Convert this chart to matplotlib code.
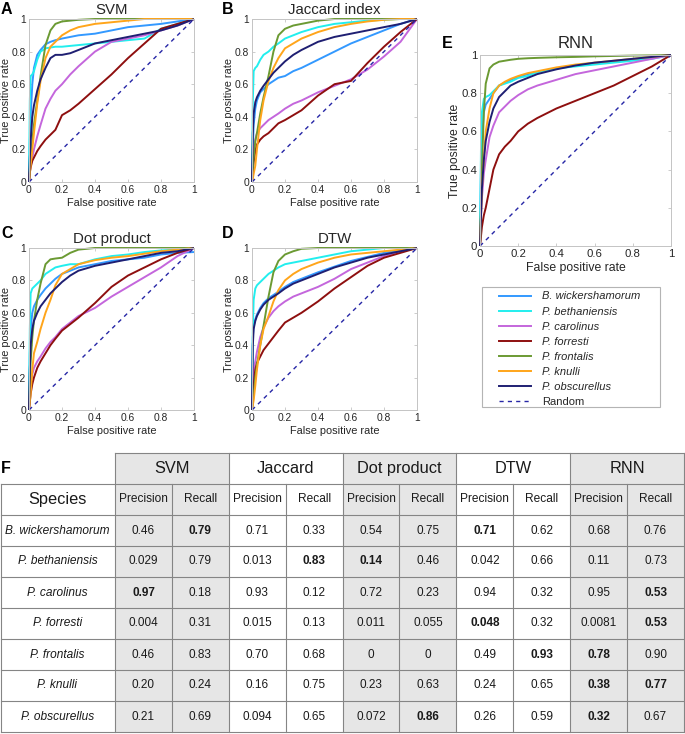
import numpy as np
import matplotlib
matplotlib.use('Agg')
import matplotlib.pyplot as plt
from matplotlib.patches import Rectangle
from matplotlib.lines import Line2D

plt.rcParams['font.family'] = ['Liberation Sans', 'DejaVu Sans']

'''
Data
'''
species = ['B. wickershamorum', 'P. bethaniensis', 'P. carolinus', 'P. forresti',
           'P. frontalis', 'P. knulli', 'P. obscurellus']
colors = ['#3399ff', '#22eeee', '#c466dc', '#8e0f0f', '#6b9a33', '#ffa51a', '#1f1f72']

# shared false positive rate grid
fpr = [0, 0.005, 0.01, 0.02, 0.03, 0.05, 0.07, 0.1, 0.13, 0.16, 0.2, 0.25,
       0.3, 0.4, 0.5, 0.6, 0.7, 0.8, 0.9, 1.0]

tpr_svm = [
    [0, .25, .40, .60, .70, .78, .81, .845, .86, .87, .88, .89, .90, .91, .93, .95, .96, .97, .985, 1],
    [0, .50, .65, .66, .68, .75, .80, .82, .825, .83, .83, .835, .84, .85, .86, .87, .88, .94, .97, 1],
    [0, .06, .10, .15, .20, .28, .35, .45, .51, .56, .60, .66, .71, .80, .86, .88, .90, .93, .96, 1],
    [0, .06, .09, .13, .15, .19, .22, .26, .29, .32, .41, .44, .48, .57, .66, .76, .85, .94, .97, 1],
    [0, .08, .15, .25, .35, .50, .65, .84, .93, .97, .985, .99, .995, 1, 1, 1, 1, 1, 1, 1],
    [0, .05, .10, .20, .30, .48, .62, .76, .83, .86, .90, .93, .95, .97, .98, .99, 1, 1, 1, 1],
    [0, .15, .25, .40, .47, .56, .63, .70, .76, .78, .78, .79, .81, .85, .87, .89, .91, .93, .96, 1],
]
tpr_jaccard = [
    [0, .20, .35, .45, .50, .55, .57, .60, .62, .64, .65, .68, .70, .75, .80, .85, .89, .93, .97, 1],
    [0, .50, .68, .70, .71, .75, .78, .80, .83, .85, .88, .90, .92, .95, .97, .98, .99, .995, 1, 1],
    [0, .12, .20, .26, .30, .33, .35, .38, .40, .42, .45, .48, .50, .55, .59, .63, .69, .77, .86, 1],
    [0, .07, .12, .19, .23, .26, .28, .30, .33, .36, .38, .41, .44, .53, .60, .62, .73, .83, .92, 1],
    [0, .08, .15, .25, .30, .42, .52, .65, .80, .90, .94, .96, .97, .99, 1, 1, 1, 1, 1, 1],
    [0, .02, .05, .10, .20, .38, .50, .62, .70, .76, .82, .85, .88, .92, .95, .97, .985, .995, 1, 1],
    [0, .30, .42, .49, .52, .56, .59, .63, .67, .70, .74, .78, .81, .86, .89, .91, .93, .95, .97, 1],
]
tpr_dot = [
    [0, .35, .50, .60, .64, .68, .71, .75, .78, .81, .84, .86, .88, .90, .92, .93, .94, .96, .97, .975],
    [0, .50, .72, .75, .76, .78, .80, .84, .86, .88, .89, .90, .90, .93, .95, .96, .975, .985, .99, 1],
    [0, .10, .16, .22, .26, .30, .33, .38, .42, .45, .50, .54, .58, .63, .70, .76, .82, .88, .95, 1],
    [0, .05, .10, .16, .20, .26, .30, .35, .40, .44, .49, .53, .57, .66, .76, .83, .88, .93, .97, 1],
    [0, .15, .30, .45, .55, .68, .78, .90, .93, .935, .94, .97, .99, 1, 1, 1, 1, 1, 1, 1],
    [0, .05, .10, .25, .35, .42, .50, .60, .68, .77, .84, .87, .90, .925, .94, .95, .965, .98, .99, 1],
    [0, .25, .40, .50, .55, .60, .64, .68, .72, .75, .79, .83, .86, .89, .91, .93, .95, .97, .98, 1],
]
tpr_dtw = [
    [0, .45, .52, .56, .59, .63, .66, .69, .71, .73, .76, .79, .81, .85, .885, .92, .945, .97, .985, 1],
    [0, .50, .68, .75, .77, .79, .81, .84, .86, .88, .90, .91, .92, .94, .96, .98, .99, 1, 1, 1],
    [0, .15, .25, .30, .36, .45, .51, .57, .61, .64, .67, .70, .72, .76, .81, .87, .91, .95, .98, 1],
    [0, .08, .15, .25, .29, .33, .37, .41, .45, .49, .54, .57, .60, .67, .75, .82, .89, .94, .97, 1],
    [0, .05, .10, .20, .28, .40, .52, .70, .85, .92, .96, .98, .995, 1, 1, 1, 1, 1, 1, 1],
    [0, .03, .06, .15, .25, .40, .50, .58, .67, .74, .80, .84, .87, .91, .94, .96, .97, .98, .99, 1],
    [0, .40, .50, .55, .58, .62, .65, .68, .70, .72, .75, .78, .80, .84, .88, .91, .94, .96, .98, 1],
]
tpr_rnn = [
    [0, .40, .55, .70, .74, .77, .80, .84, .855, .87, .885, .90, .91, .93, .945, .955, .965, .975, .985, 1],
    [0, .50, .70, .77, .78, .79, .81, .84, .85, .86, .88, .89, .91, .93, .94, .95, .96, .97, .98, 1],
    [0, .15, .25, .38, .45, .57, .63, .70, .73, .76, .79, .82, .84, .87, .90, .92, .94, .96, .98, 1],
    [0, .05, .10, .16, .20, .30, .40, .48, .52, .55, .60, .64, .67, .72, .76, .80, .84, .89, .94, 1],
    [0, .20, .40, .70, .85, .93, .95, .965, .97, .975, .98, .983, .985, .988, .99, .993, .995, .997, .998, 1],
    [0, .15, .30, .45, .60, .72, .80, .84, .86, .875, .89, .905, .915, .935, .95, .96, .97, .98, .99, 1],
    [0, .15, .30, .45, .55, .65, .72, .78, .81, .84, .86, .88, .90, .925, .945, .96, .97, .98, .99, 1],
]

panel_titles = ['SVM', 'Jaccard index', 'Dot product', 'DTW', 'RNN']
panel_letters = ['A', 'B', 'C', 'D', 'E']
panel_tprs = [tpr_svm, tpr_jaccard, tpr_dot, tpr_dtw, tpr_rnn]

tick_vals = [0, 0.2, 0.4, 0.6, 0.8, 1]
tick_labels = ['0', '0.2', '0.4', '0.6', '0.8', '1']

# table F
methods = ['SVM', 'Jaccard', 'Dot product', 'DTW', 'RNN']
method_shaded = [True, False, True, False, True]
metrics = ['Precision', 'Recall']
table_values = [
    ['0.46', '0.79', '0.71', '0.33', '0.54', '0.75', '0.71', '0.62', '0.68', '0.76'],
    ['0.029', '0.79', '0.013', '0.83', '0.14', '0.46', '0.042', '0.66', '0.11', '0.73'],
    ['0.97', '0.18', '0.93', '0.12', '0.72', '0.23', '0.94', '0.32', '0.95', '0.53'],
    ['0.004', '0.31', '0.015', '0.13', '0.011', '0.055', '0.048', '0.32', '0.0081', '0.53'],
    ['0.46', '0.83', '0.70', '0.68', '0', '0', '0.49', '0.93', '0.78', '0.90'],
    ['0.20', '0.24', '0.16', '0.75', '0.23', '0.63', '0.24', '0.65', '0.38', '0.77'],
    ['0.21', '0.69', '0.094', '0.65', '0.072', '0.86', '0.26', '0.59', '0.32', '0.67'],
]
bold_cells = [(0, 1), (0, 6), (1, 3), (1, 4), (2, 0), (2, 9), (3, 6), (3, 9),
              (4, 7), (4, 8), (5, 8), (5, 9), (6, 5), (6, 8)]

'''
Layout (pixels of a 685 x 734 figure)
'''
W, H = 685, 734
fig = plt.figure(figsize=(W / 100, H / 100), dpi=100)

def px_axes(x0, y0, x1, y1):
    return fig.add_axes([x0 / W, 1 - y1 / H, (x1 - x0) / W, (y1 - y0) / H])

panel_boxes = [(29, 19, 194, 182), (252, 19, 417, 182),
               (29, 248, 194, 410), (252, 248, 417, 410),
               (480, 55, 671, 246)]
letter_pos = [(1, 9), (222, 9), (1, 234), (222, 234), (442, 43)]

grey = '#c4c4c4'
dark = '#262626'

for k in range(5):
    big = (k == 4)
    ax = px_axes(*panel_boxes[k])
    for i in range(len(species)):
        ax.plot(fpr, panel_tprs[k][i], color=colors[i], lw=1.4, clip_on=False,
                solid_capstyle='butt')
    ax.plot([0, 1], [0, 1], color='#2626a6', lw=1.0, ls=(0, (3, 3)))
    ax.set_xlim(0, 1)
    ax.set_ylim(0, 1)
    ax.set_xticks(tick_vals)
    ax.set_xticklabels(tick_labels)
    ax.set_yticks(tick_vals)
    ax.set_yticklabels(tick_labels)
    fs_tick = 8.2 if big else 7.4
    fs_lab = 8.8 if big else 7.9
    ax.tick_params(direction='in', top=True, right=True, length=2.5, width=0.6,
                   color=grey, labelcolor=dark, labelsize=fs_tick, pad=2.5)
    ax.tick_params(axis='y', pad=2)
    for s in ax.spines.values():
        s.set_color(grey)
        s.set_linewidth(0.7)
    ax.set_xlabel('False positive rate', fontsize=fs_lab, color=dark, labelpad=1.5)
    ax.set_ylabel('True positive rate', fontsize=fs_lab, color=dark, labelpad=0.5)
    ax.set_title(panel_titles[k], fontsize=12 if big else 10.8, color=dark,
                 pad=5 if big else 3.5)
    lx, ly = letter_pos[k]
    fig.text(lx / W, 1 - ly / H, panel_letters[k], fontsize=11.5, weight='bold',
             ha='left', va='center', color='black')

# legend: frame drawn separately so the entries can sit inset like the reference
fig.patches.append(Rectangle((482 / W, 1 - 407 / H), 178 / W, 120 / H,
                             transform=fig.transFigure, facecolor='white',
                             edgecolor='#b4b4b4', lw=0.8))
handles = [Line2D([], [], color=c, lw=1.4) for c in colors]
handles.append(Line2D([], [], color='#2626a6', lw=1.0, ls=(0, (3, 3))))
labels = species + ['Random']
leg = fig.legend(handles, labels, loc='upper left',
                 bbox_to_anchor=(495 / W, 1 - 287 / H), frameon=False,
                 borderaxespad=0, fontsize=8, handlelength=2.8,
                 handletextpad=1.0, labelspacing=0.46, borderpad=0.4)
for t in leg.get_texts()[:-1]:
    t.set_fontstyle('italic')
for t in leg.get_texts():
    t.set_color(dark)

'''
Table F
'''
tab = fig.add_axes([0, 0, 1, 1])
tab.set_xlim(0, W)
tab.set_ylim(H, 0)
tab.axis('off')

x_species = 115
col_w = (W - 1 - x_species) / 10
row_top = 453
row_h = (732 - row_top) / 9
col_x = [x_species + j * col_w for j in range(11)]
row_y = [row_top + r * row_h for r in range(10)]
line_c = '#858585'
lw_t = 0.8

for m in range(len(methods)):
    if method_shaded[m]:
        tab.add_patch(Rectangle((col_x[2 * m], row_y[0]), 2 * col_w, row_y[9] - row_y[0],
                                facecolor='#e6e6e6', edgecolor='none'))

# horizontal rules
tab.plot([col_x[0], col_x[10]], [row_y[0], row_y[0]], color=line_c, lw=lw_t)
for r in range(1, 10):
    tab.plot([0.5, col_x[10]], [row_y[r], row_y[r]], color=line_c, lw=lw_t)
# vertical rules
tab.plot([0.5, 0.5], [row_y[1], row_y[9]], color=line_c, lw=lw_t)
for j in range(11):
    y_start = row_y[0] if j % 2 == 0 else row_y[1]
    tab.plot([col_x[j], col_x[j]], [y_start, row_y[9]], color=line_c, lw=lw_t)

txt_c = '#1a1a1a'
for m, name in enumerate(methods):
    tab.text(col_x[2 * m] + col_w, (row_y[0] + row_y[1]) / 2, name, ha='center',
             va='center', fontsize=11.8, color=txt_c)
    for q, met in enumerate(metrics):
        tab.text(col_x[2 * m + q] + col_w / 2, (row_y[1] + row_y[2]) / 2, met,
                 ha='center', va='center', fontsize=8.6, color=txt_c)
tab.text(x_species / 2, (row_y[1] + row_y[2]) / 2, 'Species', ha='center',
         va='center', fontsize=11.8, color=txt_c)
tab.text(1, (row_y[0] + row_y[1]) / 2, 'F', ha='left', va='center', fontsize=11.5,
         weight='bold', color='black')

for i, sp in enumerate(species):
    yc = (row_y[i + 2] + row_y[i + 3]) / 2
    tab.text(x_species / 2, yc, sp, ha='center', va='center', fontsize=8.6,
             style='italic', color=txt_c)
    for j, val in enumerate(table_values[i]):
        tab.text(col_x[j] + col_w / 2, yc, val, ha='center', va='center', fontsize=8.5,
                 weight='bold' if (i, j) in bold_cells else 'normal', color=txt_c)

plt.savefig('out.png', dpi=100)
